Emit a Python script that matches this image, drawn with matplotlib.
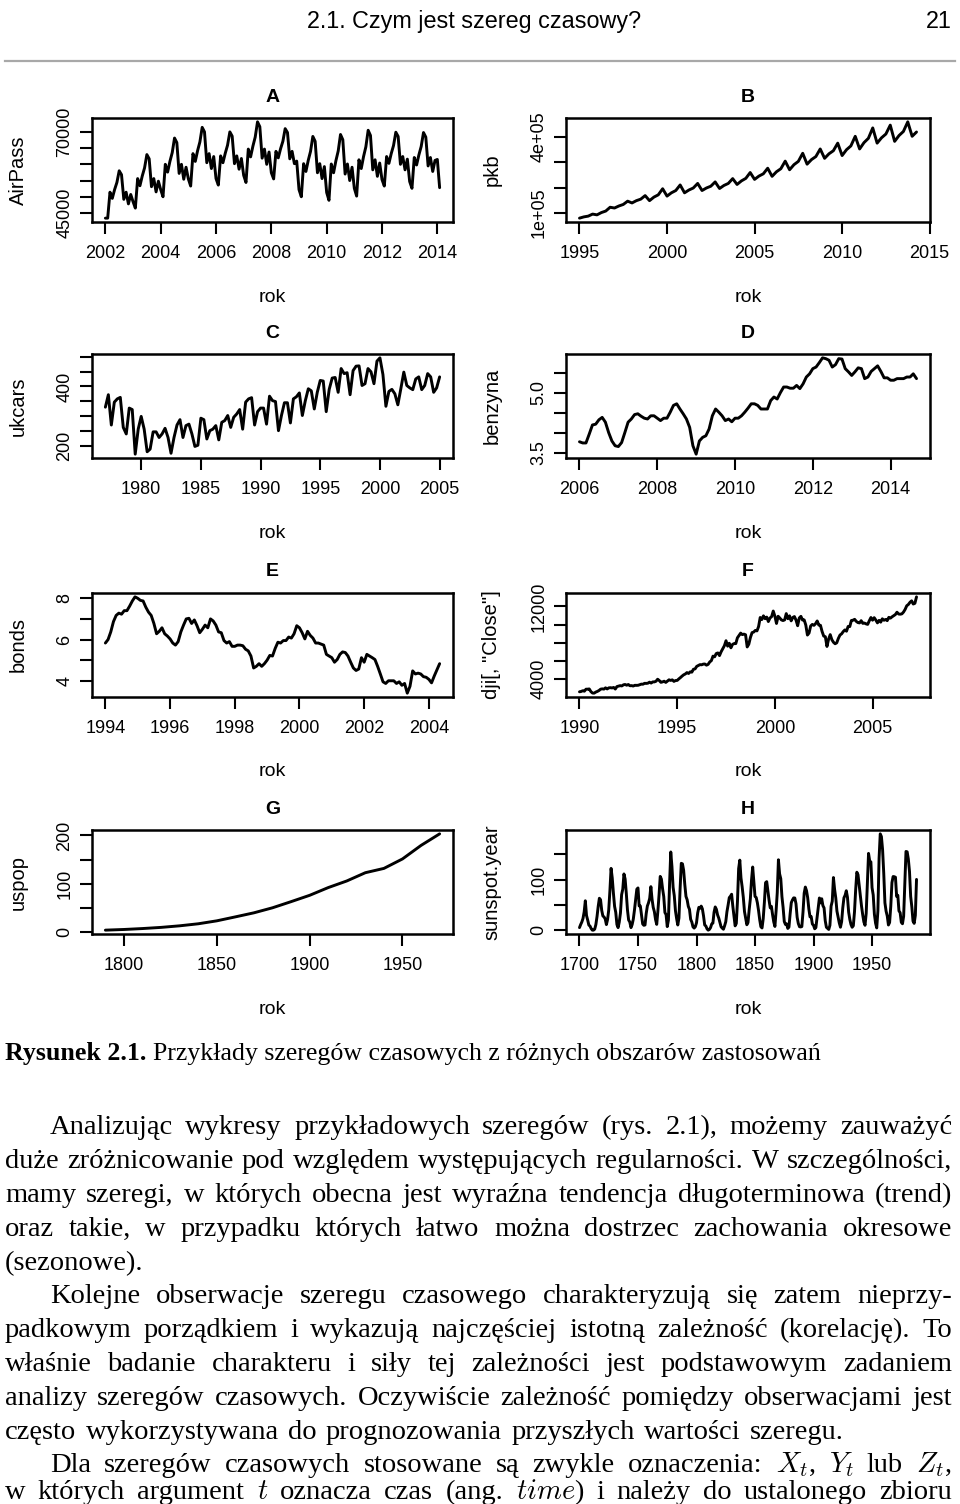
import numpy as np
import matplotlib
matplotlib.use("Agg")
import matplotlib.pyplot as plt
from matplotlib.lines import Line2D

plt.rcParams['font.family'] = ['Liberation Sans', 'DejaVu Sans']
plt.rcParams['mathtext.fontset'] = 'cm'

W, H = 960, 1504

# ---------------- data ----------------
airpass_start = 2002.0  # monthly, thousands
airpass_k = [
    43.4, 43.4, 51.4, 49.5, 52.2, 54.4, 58.0, 56.8, 49.2, 51.4, 47.8, 50.7,
    48.5, 46.5, 55.6, 53.4, 56.4, 58.9, 63.0, 61.7, 53.1, 55.6, 51.5, 54.8,
    52.2, 50.0, 60.0, 57.6, 60.9, 63.6, 68.1, 66.7, 57.2, 60.0, 55.4, 59.1,
    55.5, 53.3, 63.3, 60.9, 64.2, 66.9, 71.4, 70.0, 60.5, 63.3, 58.7, 62.4,
    55.6, 53.6, 62.6, 60.5, 63.4, 65.9, 70.0, 68.7, 60.2, 62.6, 58.5, 61.8,
    56.6, 54.4, 64.7, 62.3, 65.6, 68.4, 73.1, 71.6, 61.9, 64.7, 60.0, 63.8,
    57.4, 55.5, 64.0, 62.0, 64.8, 67.1, 71.0, 69.8, 61.7, 64.0, 60.2, 61.0,
    52.2, 50.0, 60.2, 57.8, 61.2, 64.0, 68.6, 67.1, 57.4, 60.2, 55.6, 59.3,
    51.3, 48.9, 60.1, 57.4, 61.1, 64.1, 69.2, 67.6, 57.0, 60.1, 55.0, 59.1,
    52.6, 50.2, 61.4, 58.7, 62.4, 65.4, 70.5, 68.9, 58.3, 61.4, 56.3, 60.4,
    55.3, 53.3, 62.4, 60.3, 63.3, 65.8, 69.9, 68.6, 60.0, 62.4, 58.3, 61.6,
    54.7, 52.6, 62.1, 59.8, 62.9, 65.5, 69.8, 68.4, 59.5, 62.1, 57.8, 61.2,
    61.5, 52.8]

pkb_start = 1995.0  # quarterly, thousands
pkb_k = [
    80, 85, 88, 96, 93, 102, 108, 123, 120, 128, 134, 147,
    140, 149, 155, 169, 149, 163, 172, 196, 167, 180, 189, 211,
    180, 191, 199, 217, 189, 199, 206, 223, 197, 209, 217, 236,
    213, 227, 237, 260, 233, 246, 255, 277, 245, 263, 275, 305,
    271, 291, 304, 336, 293, 311, 323, 353, 316, 334, 346, 376,
    327, 350, 365, 403, 353, 378, 395, 436, 376, 397, 412, 447,
    383, 406, 422, 460, 403, 420]

ukcars_start = 1977.0  # quarterly
ukcars = [
    330, 372, 270, 347, 358, 363, 262, 240, 327, 322, 172, 256,
    299, 256, 180, 189, 247, 247, 228, 240, 259, 228, 175, 228,
    270, 288, 228, 268, 273, 240, 198, 202, 293, 288, 223, 251,
    256, 268, 220, 279, 285, 302, 262, 296, 307, 322, 256, 347,
    358, 362, 270, 315, 327, 327, 273, 367, 352, 349, 251, 302,
    345, 345, 277, 358, 365, 378, 302, 352, 392, 385, 324, 380,
    420, 418, 315, 390, 428, 430, 380, 460, 443, 446, 372, 453,
    468, 469, 403, 409, 460, 449, 409, 485, 496, 440, 333, 383,
    390, 375, 338, 392, 448, 403, 395, 389, 425, 432, 389, 403,
    443, 432, 380, 395, 432]

benzyna_start = 2006.0  # monthly
benzyna = [
    3.77, 3.74, 3.74, 3.96, 4.19, 4.21, 4.32, 4.38, 4.26, 4.00, 3.79, 3.67,
    3.65, 3.75, 4.00, 4.26, 4.34, 4.45, 4.47, 4.41, 4.36, 4.34, 4.42, 4.42,
    4.36, 4.30, 4.36, 4.36, 4.51, 4.68, 4.72, 4.59, 4.47, 4.34, 4.13, 3.67,
    3.46, 3.79, 3.88, 3.92, 4.09, 4.42, 4.59, 4.51, 4.42, 4.30, 4.34, 4.27,
    4.36, 4.36, 4.42, 4.51, 4.61, 4.72, 4.72, 4.68, 4.59, 4.59, 4.59, 4.80,
    4.89, 4.84, 5.00, 5.14, 5.14, 5.11, 5.11, 5.18, 5.10, 5.22, 5.39, 5.47,
    5.60, 5.64, 5.75, 5.87, 5.85, 5.81, 5.64, 5.70, 5.85, 5.84, 5.60, 5.52,
    5.43, 5.52, 5.62, 5.60, 5.35, 5.39, 5.53, 5.60, 5.67, 5.53, 5.37, 5.37,
    5.31, 5.31, 5.35, 5.35, 5.35, 5.39, 5.39, 5.47, 5.35]

bonds_start = 1994.0  # monthly
bonds = [
    5.83, 6.00, 6.37, 6.87, 7.17, 7.28, 7.23, 7.40, 7.40, 7.62, 7.87, 8.07,
    8.00, 7.90, 7.87, 7.57, 7.33, 7.17, 6.78, 6.28, 6.40, 6.57, 6.28, 6.17,
    6.03, 5.83, 5.73, 5.90, 6.37, 6.70, 7.00, 7.03, 6.78, 6.95, 6.67, 6.33,
    6.50, 6.70, 6.57, 7.00, 6.90, 6.70, 6.37, 6.33, 5.95, 5.83, 5.90, 5.67,
    5.67, 5.73, 5.73, 5.70, 5.53, 5.45, 5.20, 4.62, 4.70, 4.83, 4.70, 4.83,
    5.00, 5.23, 5.20, 5.57, 5.87, 5.83, 5.95, 5.95, 6.12, 6.07, 6.28, 6.67,
    6.57, 6.33, 6.03, 6.40, 6.20, 6.07, 5.83, 5.83, 5.78, 5.73, 5.28, 5.20,
    5.12, 4.90, 5.03, 5.28, 5.40, 5.37, 5.20, 4.90, 4.62, 4.50, 4.57, 5.12,
    4.90, 5.28, 5.20, 5.12, 5.03, 4.70, 4.33, 3.95, 3.87, 4.00, 4.00, 4.00,
    3.87, 3.95, 3.78, 3.87, 3.40, 3.73, 4.48, 4.33, 4.37, 4.33, 4.20, 4.17,
    4.07, 3.90, 4.23, 4.53, 4.83]

dji_start = 1990.0  # monthly close
dji_close = [
    2591, 2627, 2707, 2657, 2877, 2881, 2905, 2614, 2453, 2442, 2560, 2634,
    2736, 2882, 2914, 2888, 3028, 2907, 3025, 3044, 3017, 3069, 2895, 3169,
    3224, 3268, 3236, 3359, 3397, 3319, 3394, 3257, 3272, 3226, 3306, 3301,
    3310, 3371, 3436, 3428, 3527, 3516, 3540, 3651, 3555, 3681, 3684, 3754,
    3978, 3832, 3636, 3682, 3758, 3625, 3765, 3913, 3843, 3908, 3739, 3834,
    3844, 4011, 4158, 4321, 4465, 4556, 4709, 4611, 4789, 4756, 5075, 5117,
    5395, 5486, 5587, 5569, 5643, 5655, 5529, 5616, 5882, 6029, 6522, 6448,
    6813, 6878, 6584, 7009, 7331, 7673, 8223, 7622, 7945, 7442, 7823, 7908,
    7907, 8546, 8800, 9063, 8900, 8952, 8883, 7539, 7843, 8592, 9117, 9181,
    9359, 9307, 9786, 10789, 10560, 10971, 10655, 10829, 10337, 10730, 10878, 11497,
    10941, 10128, 10922, 10734, 10522, 10448, 10522, 11215, 10651, 10971, 10415, 10788,
    10887, 10495, 9879, 10735, 10912, 10502, 10523, 9950, 8848, 9075, 9852, 10022,
    9920, 10106, 10404, 9946, 9925, 9243, 8737, 8664, 7592, 8397, 8896, 8342,
    8054, 7891, 7992, 8480, 8850, 8985, 9234, 9416, 9275, 9801, 9782, 10454,
    10488, 10584, 10358, 10226, 10188, 10435, 10140, 10174, 10080, 10027, 10428, 10783,
    10490, 10766, 10504, 10193, 10467, 10275, 10641, 10482, 10569, 10440, 10806, 10718,
    10865, 10993, 11109, 11367, 11168, 11150, 11186, 11381, 11679, 12081, 12222, 12463,
    12622, 12269, 12354, 13063]

uspop_years = [1790, 1800, 1810, 1820, 1830, 1840, 1850, 1860, 1870, 1880,
               1890, 1900, 1910, 1920, 1930, 1940, 1950, 1960, 1970]
uspop = [3.93, 5.31, 7.24, 9.64, 12.9, 17.1, 23.2, 31.4, 39.8, 50.2,
         62.9, 76.0, 92.0, 105.7, 122.8, 131.7, 151.3, 179.3, 203.2]

sunspot_start = 1700  # yearly
sunspot_year = [
    5, 11, 16, 23, 36, 58, 29, 20, 10, 8,
    3, 0, 0, 2, 11, 27, 47, 63, 60, 39,
    28, 26, 22, 11, 21, 40, 78, 122, 103, 73,
    47, 35, 11, 5, 16, 34, 70, 81, 111, 101,
    73, 40, 20, 16, 5, 11, 22, 40, 60, 80.9,
    83.4, 47.7, 47.8, 30.7, 12.2, 9.6, 10.2, 32.4, 47.6, 54,
    62.9, 85.9, 61.2, 45.1, 36.4, 20.9, 11.4, 37.8, 69.8, 106.1,
    100.8, 81.6, 66.5, 34.8, 30.6, 7, 19.8, 92.5, 154.4, 125.9,
    84.8, 68.1, 38.5, 22.8, 10.2, 24.1, 82.9, 132, 130.9, 118.1,
    89.9, 66.6, 60, 46.9, 41, 21.3, 16, 6.4, 4.1, 6.8,
    14.5, 34, 45, 43.1, 47.5, 42.2, 28.1, 10.1, 8.1, 2.5,
    0, 1.4, 5, 12.2, 13.9, 35.4, 45.8, 41.1, 30.1, 23.9,
    15.6, 6.6, 4, 1.8, 8.5, 16.6, 36.3, 49.6, 64.2, 67,
    70.9, 47.8, 27.5, 8.5, 13.2, 56.9, 121.5, 138.3, 103.2, 85.7,
    64.6, 36.7, 24.2, 10.7, 15, 40.1, 61.5, 98.5, 124.7, 96.3,
    66.6, 64.5, 54.1, 39, 20.6, 6.7, 4.3, 22.7, 54.8, 93.8,
    95.8, 77.2, 59.1, 44, 47, 30.5, 16.3, 7.3, 37.6, 74,
    139, 111.2, 101.6, 66.2, 44.7, 17, 11.3, 12.4, 3.4, 6,
    32.3, 54.3, 59.7, 63.7, 63.5, 52.2, 25.4, 13.1, 6.8, 6.3,
    7.1, 35.6, 73, 85.1, 78, 64, 41.8, 26.2, 26.7, 12.1,
    9.5, 2.7, 5, 24.4, 42, 63.5, 53.8, 62, 48.5, 43.9,
    18.6, 5.7, 3.6, 1.4, 9.6, 47.4, 57.1, 103.9, 80.6, 63.6,
    37.6, 26.1, 14.2, 5.8, 16.7, 44.3, 63.9, 69, 77.8, 64.9,
    35.7, 21.2, 11.1, 5.7, 8.7, 36.1, 79.7, 114.4, 109.6, 88.8,
    67.8, 47.5, 30.6, 16.3, 9.6, 33.2, 92.6, 151.6, 136.3, 134.7,
    83.9, 69.4, 31.5, 13.9, 4.4, 38, 141.7, 190.2, 184.8, 159,
    112.3, 53.9, 37.5, 27.9, 10.2, 15.1, 47, 93.8, 105.9, 105.5,
    104.5, 66.6, 68.9, 38, 34.5, 15.5, 12.6, 27.5, 92.5, 155.4,
    154.7, 140.5, 115.9, 66.6, 45.9, 17.9, 13.4, 29.4, 100.2]

# ticks
A_xticks = [2002, 2004, 2006, 2008, 2010, 2012, 2014]
A_yticks = [45000, 50000, 55000, 60000, 65000, 70000]
A_ylabels = ['45000', '', '', '', '', '70000']
B_xticks = [1995, 2000, 2005, 2010, 2015]
B_yticks = [100000, 200000, 300000, 400000]
B_ylabels = ['1e+05', '', '', '4e+05']
C_xticks = [1980, 1985, 1990, 1995, 2000, 2005]
C_yticks = [200, 250, 300, 350, 400, 450, 500]
C_ylabels = ['200', '', '', '', '400', '', '']
D_xticks = [2006, 2008, 2010, 2012, 2014]
D_yticks = [3.5, 4.0, 4.5, 5.0, 5.5]
D_ylabels = ['3.5', '', '', '5.0', '']
E_xticks = [1994, 1996, 1998, 2000, 2002, 2004]
E_yticks = [4, 5, 6, 7, 8]
E_ylabels = ['4', '', '6', '', '8']
F_xticks = [1990, 1995, 2000, 2005]
F_yticks = [4000, 6000, 8000, 10000, 12000]
F_ylabels = ['4000', '', '', '', '12000']
G_xticks = [1800, 1850, 1900, 1950]
G_yticks = [0, 50, 100, 150, 200]
G_ylabels = ['0', '', '100', '', '200']
H_xticks = [1700, 1750, 1800, 1850, 1900, 1950]
H_yticks = [0, 50, 100, 150]
H_ylabels = ['0', '', '100', '']

# ---------------- figure ----------------
fig = plt.figure(figsize=(W / 100, H / 100), dpi=100)
FS = 13
FS_LAB = 14
FS_YLAB = 14.5


def panel(box, t, v, title, ylab, xticks, yticks, ylabels):
    x0, y0, x1, y1 = box
    ax = fig.add_axes([x0 / W, 1 - y1 / H, (x1 - x0) / W, (y1 - y0) / H])
    t = np.asarray(t, float)
    v = np.asarray(v, float)
    ax.plot(t, v, color='black', lw=2.1, solid_joinstyle='round', solid_capstyle='round')
    ax.set_xticks(xticks)
    ax.set_xticklabels([str(x) for x in xticks])
    ax.set_yticks(yticks)
    ax.set_yticklabels(ylabels)
    rx = t.max() - t.min()
    ry = v.max() - v.min()
    ax.set_xlim(t.min() - 0.04 * rx, t.max() + 0.04 * rx)
    ax.set_ylim(v.min() - 0.04 * ry, v.max() + 0.04 * ry)
    for s in ax.spines.values():
        s.set_linewidth(1.8)
    ax.tick_params(direction='out', length=8.5, width=1.5, labelsize=FS)
    ax.tick_params(axis='x', pad=8)
    ax.tick_params(axis='y', pad=5, labelrotation=90)
    for lab in ax.get_yticklabels():
        lab.set_va('center')
    cx = (x0 + x1) / 2
    fig.text(cx / W, 1 - (y0 - 21) / H, title, ha='center', va='center',
             fontsize=FS_LAB, fontweight='bold')
    fig.text(cx / W, 1 - (y1 + 75) / H, 'rok', ha='center', va='center', fontsize=FS_LAB)
    fig.text((x0 - 74) / W, 1 - ((y0 + y1) / 2) / H, ylab, rotation=90,
             ha='center', va='center', fontsize=FS_YLAB)
    return ax


LX0, LX1, RX0, RX1 = 92, 453, 566, 930
ROWS = [(118, 222), (354, 458), (593, 697), (830, 934)]

tA = airpass_start + np.arange(len(airpass_k)) / 12
panel((LX0, ROWS[0][0], LX1, ROWS[0][1]), tA, np.array(airpass_k) * 1000, 'A', 'AirPass',
      A_xticks, A_yticks, A_ylabels)
tB = pkb_start + np.arange(len(pkb_k)) / 4
panel((RX0, ROWS[0][0], RX1, ROWS[0][1]), tB, np.array(pkb_k) * 1000, 'B', 'pkb',
      B_xticks, B_yticks, B_ylabels)
tC = ukcars_start + np.arange(len(ukcars)) / 4
panel((LX0, ROWS[1][0], LX1, ROWS[1][1]), tC, ukcars, 'C', 'ukcars',
      C_xticks, C_yticks, C_ylabels)
tD = benzyna_start + np.arange(len(benzyna)) / 12
panel((RX0, ROWS[1][0], RX1, ROWS[1][1]), tD, benzyna, 'D', 'benzyna',
      D_xticks, D_yticks, D_ylabels)
tE = bonds_start + np.arange(len(bonds)) / 12
panel((LX0, ROWS[2][0], LX1, ROWS[2][1]), tE, bonds, 'E', 'bonds',
      E_xticks, E_yticks, E_ylabels)
tF = dji_start + np.arange(len(dji_close)) / 12
panel((RX0, ROWS[2][0], RX1, ROWS[2][1]), tF, dji_close, 'F', 'dji[, "Close"]',
      F_xticks, F_yticks, F_ylabels)
panel((LX0, ROWS[3][0], LX1, ROWS[3][1]), uspop_years, uspop, 'G', 'uspop',
      G_xticks, G_yticks, G_ylabels)
tH = sunspot_start + np.arange(len(sunspot_year))
panel((RX0, ROWS[3][0], RX1, ROWS[3][1]), tH, sunspot_year, 'H', 'sunspot.year',
      H_xticks, H_yticks, H_ylabels)

# ---------------- page text ----------------
fig.canvas.draw()
renderer = fig.canvas.get_renderer()


def measure(s, **kw):
    t = fig.text(0, 0, s, **kw)
    w = t.get_window_extent(renderer=renderer).width
    t.remove()
    return w


HEAD_FAM = ['Liberation Sans Narrow', 'Liberation Sans', 'DejaVu Sans']
head = '2.1. Czym jest szereg czasowy?'
hw = measure(head, fontsize=20, family=HEAD_FAM)
hfs = 20 * 333 / hw
fig.text(474 / W, 1 - 28 / H, head, ha='center', va='baseline', fontsize=hfs, family=HEAD_FAM)
fig.text(952 / W, 1 - 28 / H, '21', ha='right', va='baseline', fontsize=hfs, family=HEAD_FAM)
fig.add_artist(Line2D([5 / W, 955 / W], [1 - 61 / H, 1 - 61 / H], color='#a8a8a8', lw=1.6))

SERIF = ['Liberation Serif', 'DejaVu Serif']

# caption
cap_b = 'Rysunek 2.1.'
cap_r = 'Przykłady szeregów czasowych z różnych obszarów zastosowań'
wb = measure(cap_b, fontsize=16, family=SERIF, fontweight='bold')
wr = measure(cap_r, fontsize=16, family=SERIF)
wsp = measure('a a', fontsize=16, family=SERIF) - measure('aa', fontsize=16, family=SERIF)
cfs = 16 * 815 / (wb + wr + wsp)
cap_y = 1060
fig.text(5 / W, 1 - cap_y / H, cap_b, ha='left', va='baseline', fontsize=cfs,
         family=SERIF, fontweight='bold')
fig.text((5 + (wb + wsp) * cfs / 16) / W, 1 - cap_y / H, cap_r, ha='left', va='baseline',
         fontsize=cfs, family=SERIF)

BODY_FS = 20.5
body = [
    (50, 1134, 'Analizując wykresy przykładowych szeregów (rys. 2.1), możemy zauważyć', True),
    (5, 1168, 'duże zróżnicowanie pod względem występujących regularności. W szczególności,', True),
    (5, 1202, 'mamy szeregi, w których obecna jest wyraźna tendencja długoterminowa (trend)', True),
    (5, 1236, 'oraz takie, w przypadku których łatwo można dostrzec zachowania okresowe', True),
    (5, 1270, '(sezonowe).', False),
    (50, 1303, 'Kolejne obserwacje szeregu czasowego charakteryzują się zatem nieprzy-', True),
    (5, 1337, 'padkowym porządkiem i wykazują najczęściej istotną zależność (korelację). To', True),
    (5, 1371, 'właśnie badanie charakteru i siły tej zależności jest podstawowym zadaniem', True),
    (5, 1405, 'analizy szeregów czasowych. Oczywiście zależność pomiędzy obserwacjami jest', True),
    (5, 1439, 'często wykorzystywana do prognozowania przyszłych wartości szeregu.', False),
    (50, 1472, 'Dla szeregów czasowych stosowane są zwykle oznaczenia: $X_t$, $Y_t$ lub $Z_t$,', True),
    (5, 1499, 'w których argument $t$ oznacza czas (ang. $time$) i należy do ustalonego zbioru', True),
]
XR = 952
space_w = measure('a a', fontsize=BODY_FS, family=SERIF) - measure('aa', fontsize=BODY_FS, family=SERIF)
for xl, yb, s, just in body:
    words = s.split(' ')
    widths = [measure(w_, fontsize=BODY_FS, family=SERIF) for w_ in words]
    if just and len(words) > 1:
        gap = (XR - xl - sum(widths)) / (len(words) - 1)
    else:
        gap = space_w * 1.3
    x = xl
    for w_, wd in zip(words, widths):
        fig.text(x / W, 1 - yb / H, w_, ha='left', va='baseline', fontsize=BODY_FS, family=SERIF)
        x += wd + gap

fig.savefig('out.png', dpi=100)
